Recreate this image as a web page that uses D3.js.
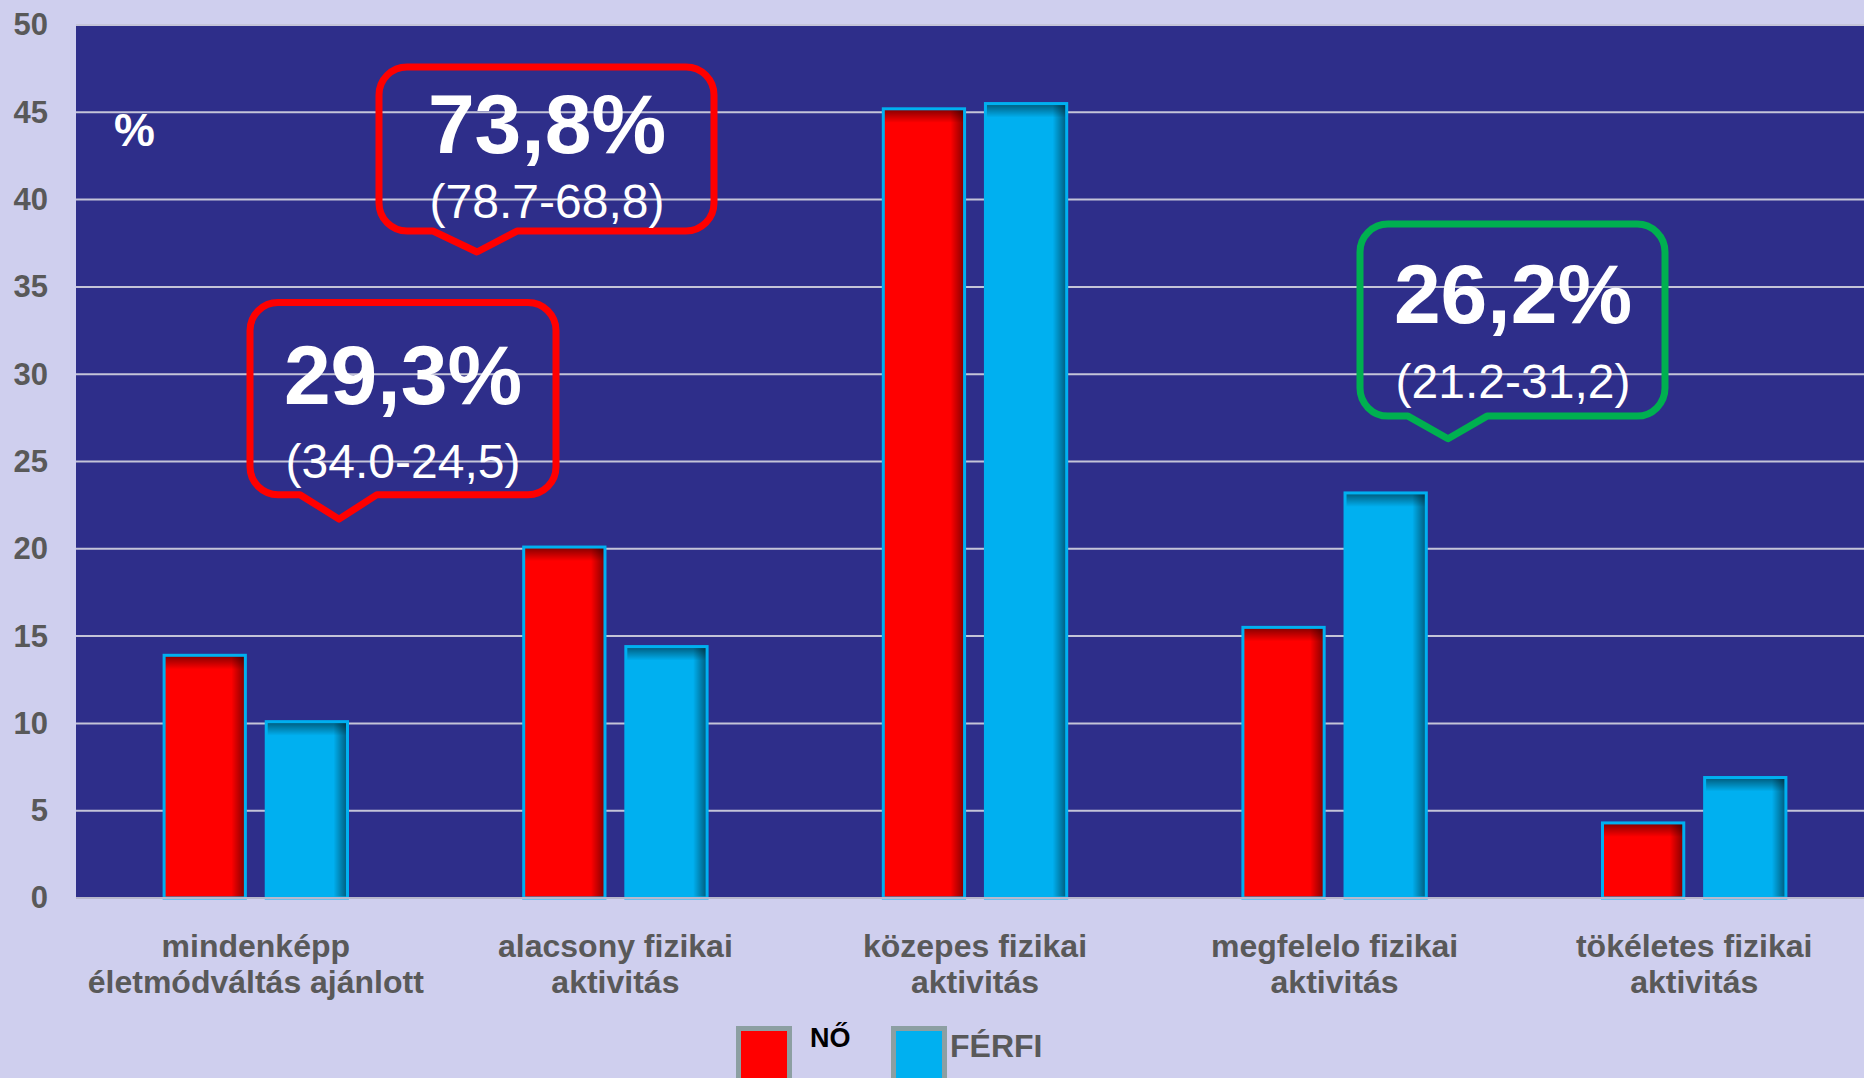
<!DOCTYPE html>
<html>
<head>
<meta charset="utf-8">
<script src="https://cdn.jsdelivr.net/npm/d3@7"></script>
<style>
  html, body { margin: 0; padding: 0; background: #CFCFEE; overflow: hidden; }
  svg { display: block; }
  text { font-family: "Liberation Sans", Arial, sans-serif; }
</style>
</head>
<body>
<svg id="chart" width="1864" height="1078"></svg>
<script>
// Physical activity categories (two-line labels)
const categories = [
  ["mindenképp", "életmódváltás ajánlott"],
  ["alacsony fizikai", "aktivitás"],
  ["közepes fizikai", "aktivitás"],
  ["megfelelo fizikai", "aktivitás"],
  ["tökéletes fizikai", "aktivitás"]
];
const seriesNames = ["NŐ", "FÉRFI"];
const noValues = [13.9, 20.1, 45.2, 15.5, 4.3];
const ferfiValues = [10.1, 14.4, 45.5, 23.2, 6.9];
const yTicks = [0, 5, 10, 15, 20, 25, 30, 35, 40, 45, 50];

// Callout texts
const calloutMain = ["29,3%", "73,8%", "26,2%"];
const calloutRange = ["(34.0-24,5)", "(78.7-68,8)", "(21.2-31,2)"];

const W = 1864, H = 1078;
// the plot area runs slightly past the right edge of the canvas
const plot = { left: 76, right: 1874, top: 25, bottom: 898 };
const svg = d3.select("#chart");

const x = d3.scaleBand().domain(d3.range(categories.length))
  .range([plot.left, plot.right]).paddingInner(0).paddingOuter(0);
const y = d3.scaleLinear().domain([0, 50]).range([plot.bottom, plot.top]);
const barW = x.bandwidth() * 0.226;
const gap = x.bandwidth() * 0.058;

const defs = svg.append("defs");
const gTop = defs.append("linearGradient").attr("id", "shadeTop")
  .attr("x1", 0).attr("y1", 0).attr("x2", 0).attr("y2", 1);
gTop.append("stop").attr("offset", "0%").attr("stop-color", "#000").attr("stop-opacity", 0.5);
gTop.append("stop").attr("offset", "100%").attr("stop-color", "#000").attr("stop-opacity", 0);
const gRight = defs.append("linearGradient").attr("id", "shadeRight")
  .attr("x1", 0).attr("y1", 0).attr("x2", 1).attr("y2", 0);
gRight.append("stop").attr("offset", "0%").attr("stop-color", "#000").attr("stop-opacity", 0);
gRight.append("stop").attr("offset", "100%").attr("stop-color", "#000").attr("stop-opacity", 0.5);

// Plot background
svg.append("rect").attr("x", plot.left).attr("y", plot.top)
  .attr("width", plot.right - plot.left).attr("height", plot.bottom - plot.top)
  .attr("fill", "#2E2E8A");

// Gridlines
svg.append("g").selectAll("line").data(yTicks.filter(d => d > 0)).join("line")
  .attr("x1", plot.left).attr("x2", plot.right)
  .attr("y1", d => y(d)).attr("y2", d => y(d))
  .attr("stroke", "#C4C4D8").attr("stroke-width", 2);

// Y axis tick labels
const yAxis = d3.axisLeft(y).tickValues(yTicks).tickSize(0).tickPadding(0);
const yg = svg.append("g").attr("transform", `translate(48,0)`).call(yAxis);
yg.select(".domain").remove();
yg.selectAll("text")
  .attr("font-size", 31).attr("font-weight", "bold").attr("fill", "#595959")
  .attr("font-family", "'Liberation Sans', Arial, sans-serif");

// Bars
const series = [
  { name: seriesNames[0], values: noValues, color: "#FF0000", offset: -gap / 2 - barW },
  { name: seriesNames[1], values: ferfiValues, color: "#00B0F0", offset: gap / 2 }
];
const shade = 14;
series.forEach(s => {
  const g = svg.append("g");
  s.values.forEach((v, i) => {
    const bx = x(i) + x.bandwidth() / 2 + s.offset;
    const by = y(v);
    const bh = y(0) - y(v);
    g.append("rect").attr("x", bx).attr("y", by).attr("width", barW).attr("height", bh)
      .attr("fill", s.color);
    g.append("rect").attr("x", bx).attr("y", by).attr("width", barW).attr("height", Math.min(shade, bh))
      .attr("fill", "url(#shadeTop)");
    g.append("rect").attr("x", bx + barW - shade).attr("y", by).attr("width", shade).attr("height", bh)
      .attr("fill", "url(#shadeRight)");
    g.append("rect").attr("x", bx).attr("y", by).attr("width", barW).attr("height", bh)
      .attr("fill", "none").attr("stroke", "#00B0F0").attr("stroke-width", 3);
  });
});

// Baseline
svg.append("line").attr("x1", plot.left).attr("x2", plot.right)
  .attr("y1", y(0)).attr("y2", y(0)).attr("stroke", "#B8B8CC").attr("stroke-width", 2);

// Category labels
const xl = svg.append("g");
categories.forEach((lines, i) => {
  const t = xl.append("text")
    .attr("x", x(i) + x.bandwidth() / 2).attr("y", 957)
    .attr("text-anchor", "middle").attr("font-size", 32).attr("font-weight", "bold")
    .attr("fill", "#595959");
  lines.forEach((ln, k) => {
    t.append("tspan").attr("x", x(i) + x.bandwidth() / 2).attr("dy", k === 0 ? 0 : 36).text(ln);
  });
});

// Unit label
svg.append("text").attr("x", 114).attr("y", 146).attr("font-size", 46)
  .attr("font-weight", "bold").attr("fill", "#FFFFFF").text("%");

// Callouts: box edges in pixels, vertical extents in value units
const callouts = [
  { left: 250, right: 556, top: 34.1, bottom: 23.1, tipX: 339, tip: 21.7, baseL: 300, baseR: 377, cx: 403, mainDy: 101, rangeDy: 175, color: "#FF0000" },
  { left: 379, right: 714, top: 47.6, bottom: 38.2, tipX: 477, tip: 37.0, baseL: 433, baseR: 517, cx: 547, mainDy: 86, rangeDy: 151, color: "#FF0000" },
  { left: 1360, right: 1665, top: 38.6, bottom: 27.6, tipX: 1448, tip: 26.3, baseL: 1408, baseR: 1487, cx: 1513, mainDy: 99, rangeDy: 174, color: "#00B050" }
];
const r = 28;
callouts.forEach((c, i) => {
  const T = y(c.top), B = y(c.bottom), TY = y(c.tip);
  const p = d3.path();
  p.moveTo(c.left + r, T);
  p.lineTo(c.right - r, T);
  p.arcTo(c.right, T, c.right, T + r, r);
  p.lineTo(c.right, B - r);
  p.arcTo(c.right, B, c.right - r, B, r);
  p.lineTo(c.baseR, B);
  p.lineTo(c.tipX, TY);
  p.lineTo(c.baseL, B);
  p.lineTo(c.left + r, B);
  p.arcTo(c.left, B, c.left, B - r, r);
  p.lineTo(c.left, T + r);
  p.arcTo(c.left, T, c.left + r, T, r);
  p.closePath();
  svg.append("path").attr("d", p.toString()).attr("fill", "none")
    .attr("stroke", c.color).attr("stroke-width", 7).attr("stroke-linejoin", "round");
  svg.append("text").attr("x", c.cx).attr("y", T + c.mainDy)
    .attr("text-anchor", "middle").attr("font-size", 84).attr("font-weight", "bold")
    .attr("fill", "#FFFFFF").text(calloutMain[i]);
  svg.append("text").attr("x", c.cx).attr("y", T + c.rangeDy)
    .attr("text-anchor", "middle").attr("font-size", 48)
    .attr("fill", "#FFFFFF").text(calloutRange[i]);
});

// Legend
const legend = [
  { name: seriesNames[0], color: "#FF0000", sx: 736, tx: 810, ty: 1047, size: 27, fill: "#000000" },
  { name: seriesNames[1], color: "#00B0F0", sx: 891, tx: 950, ty: 1057, size: 32, fill: "#595959" }
];
legend.forEach(l => {
  svg.append("rect").attr("x", l.sx + 2.5).attr("y", 1028.5).attr("width", 51).attr("height", 56)
    .attr("fill", l.color).attr("stroke", "#8C9FA2").attr("stroke-width", 5);
  svg.append("text").attr("x", l.tx).attr("y", l.ty).attr("font-size", l.size)
    .attr("font-weight", "bold").attr("fill", l.fill).text(l.name);
});
</script>
</body>
</html>
